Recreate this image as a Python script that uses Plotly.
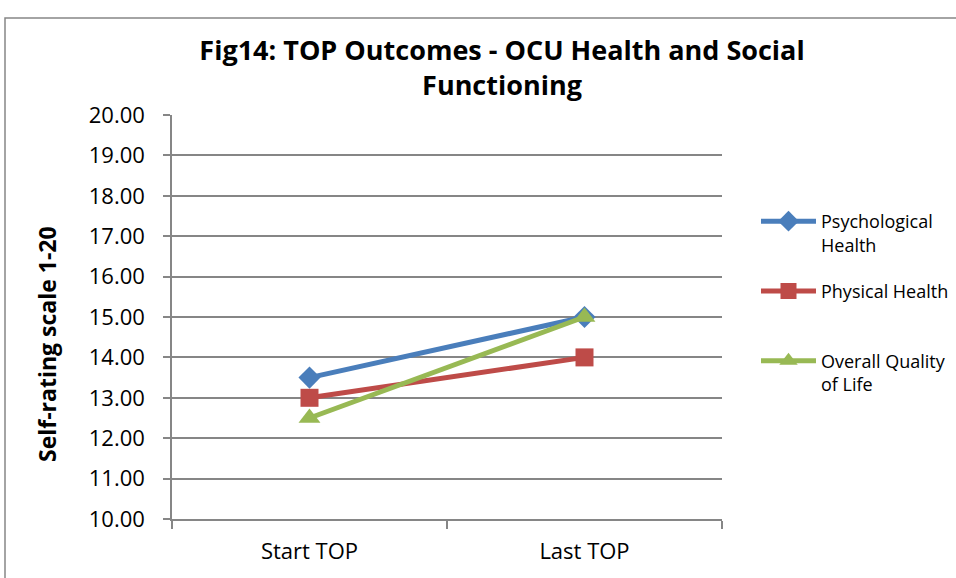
import plotly.graph_objects as go

categories = ["Start TOP", "Last TOP"]
psychological = [13.5, 15.0]
physical = [13.0, 14.0]
quality_of_life = [12.5, 15.0]
series_names = ["Psychological<br>Health", "Physical Health<br>\u00a0", "Overall Quality<br>of Life"]
y_ticks = [10, 11, 12, 13, 14, 15, 16, 17, 18, 19, 20]

FONT = "Open Sans, sans-serif"

fig = go.Figure()
fig.add_trace(go.Scatter(x=categories, y=psychological, name=series_names[0], mode="lines+markers",
                         legendgroup="a",
                         line=dict(color="#4A7EBB", width=5),
                         marker=dict(symbol="diamond", size=17, color="#4A7EBB")))
fig.add_trace(go.Scatter(x=categories, y=physical, name=series_names[1], mode="lines+markers",
                         legendgroup="b",
                         line=dict(color="#BE4B48", width=5),
                         marker=dict(symbol="square", size=18, color="#BE4B48")))
fig.add_trace(go.Scatter(x=categories, y=quality_of_life, name=series_names[2], mode="lines+markers",
                         legendgroup="c",
                         line=dict(color="#98B954", width=5),
                         marker=dict(symbol="triangle-up", size=19, color="#98B954")))

L, R, T, B = 172, 234, 115, 59
W, H = 956, 578
pw, ph = W - L - R, H - T - B

fig.update_layout(
    width=W, height=H,
    margin=dict(l=L, r=R, t=T, b=B, autoexpand=False),
    paper_bgcolor="white", plot_bgcolor="white",
    font=dict(family=FONT, color="black", size=22),
    title=dict(text="<b>Fig14: TOP Outcomes - OCU Health and Social<br>Functioning</b>",
               x=502 / W, xanchor="center", y=1 - 60 / H, yanchor="middle",
               font=dict(size=27, family=FONT)),
    showlegend=True,
    legend=dict(x=(756 - L) / pw, xanchor="left", y=(519 - 203) / ph, yanchor="top",
                font=dict(size=18, family=FONT), traceorder="grouped", tracegroupgap=20,
                itemwidth=55, valign="top", bgcolor="rgba(0,0,0,0)"),
    xaxis=dict(type="category", range=[-0.5, 1.5], showgrid=False,
               showline=True, linecolor="#868686", linewidth=1.5,
               ticks="outside", ticklen=8, tickcolor="#868686", tickwidth=1.5,
               tickson="boundaries", tickfont=dict(size=22), ticklabelstandoff=12),
    yaxis=dict(range=[10, 20], tickvals=y_ticks, tickformat=".2f",
               showgrid=True, gridcolor="#868686", gridwidth=1.5,
               showline=True, linecolor="#868686", linewidth=1.5,
               ticks="outside", ticklen=7, tickcolor="#868686", tickwidth=1.5,
               tickfont=dict(size=22), zeroline=False, ticklabelstandoff=14),
    annotations=[dict(text="<b>Self-rating scale 1-20</b>", textangle=-90,
                      xref="paper", yref="paper", x=(47 - L) / pw, y=(519 - 344) / ph,
                      xanchor="center", yanchor="middle", showarrow=False,
                      font=dict(size=23, family=FONT))],
    shapes=[dict(type="rect", xref="paper", yref="paper",
                 x0=(5 - L) / pw, x1=(1100 - L) / pw,
                 y0=(519 - 700) / ph, y1=(519 - 18) / ph,
                 line=dict(color="#868686", width=1.5), fillcolor="rgba(0,0,0,0)", layer="below")],
)

fig.write_html("out.html", config={"displayModeBar": False},
               post_script="document.body.style.margin='0';")
